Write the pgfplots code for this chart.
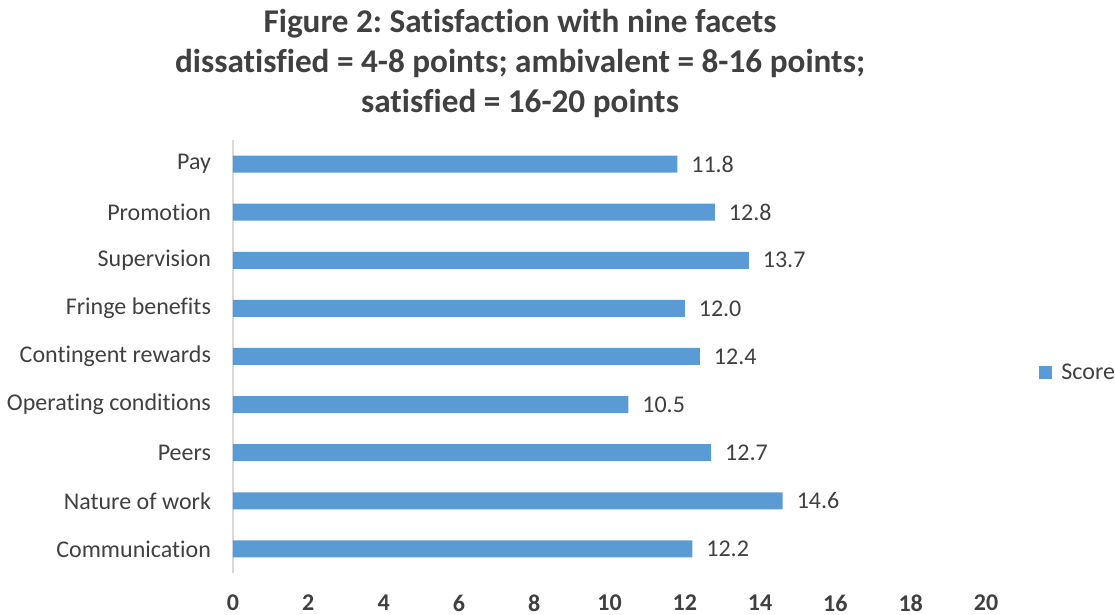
\documentclass[border=0pt]{standalone}
\usepackage{fontspec}
\setmainfont{Carlito}[Ligatures=NoCommon]
\usepackage{pgfplots}
\pgfplotsset{compat=1.18}
\frenchspacing
\definecolor{barblue}{HTML}{5B9BD5}
\definecolor{txt}{HTML}{404040}
\definecolor{axgray}{HTML}{D9D9D9}
\newcommand{\lbl}{\fontsize{12}{14.4}\selectfont}
\newcommand{\ttl}{\fontsize{16.6}{20}\selectfont\bfseries}
\begin{document}
\begin{tikzpicture}
\begin{axis}[
  scale only axis, width=376.5pt, height=216.5pt,
  xbar, bar width=8.5pt,
  xmin=0, xmax=20, ymin=-0.5, ymax=8.5,
  xtick={0,2,...,20},
  ytick={0,...,8},
  yticklabels={Communication, Nature of work, Peers, Operating conditions,
    Contingent rewards, Fringe benefits, Supervision, Promotion, Pay},
  axis lines*=left,
  axis line style={-},
  x axis line style={draw=none},
  y axis line style={draw=axgray, line width=0.75pt},
  major tick length=0pt,
  /pgf/number format/assume math mode=true,
  xticklabel style={font=\lbl\bfseries, text=txt, yshift=-7.3pt},
  yticklabel style={font=\lbl, text=txt, xshift=-7.5pt},
  nodes near coords={\pgfmathprintnumber[fixed,fixed zerofill,precision=1]{\pgfplotspointmeta}},
  every node near coord/.append style={anchor=west, xshift=3.5pt, font=\lbl, text=txt},
  legend style={draw=none, fill=none, at={(1,0.462)}, anchor=west, xshift=26.5pt,
    font=\lbl, text=txt, inner sep=0pt, nodes={inner xsep=4.5pt}},
  legend image code/.code={\fill[barblue] (0pt,-3.25pt) rectangle (6.5pt,3.25pt);},
]
\addplot[fill=barblue, draw=none] coordinates {
  (12.2,0) (14.6,1) (12.7,2) (10.5,3) (12.4,4)
  (12.0,5) (13.7,6) (12.8,7) (11.8,8)
};
\legend{Score}
\coordinate (o) at (rel axis cs:0,0);
\end{axis}
% title, one node per line, set on its baseline
\node[anchor=base, inner sep=0pt, font=\ttl, text=txt]
  at ([shift={(143.5pt,270pt)}]o) {Figure 2: Satisfaction with nine facets};
\node[anchor=base, inner sep=0pt, font=\ttl, text=txt]
  at ([shift={(143.5pt,250.2pt)}]o) {dissatisfied = 4-8 points; ambivalent = 8-16 points;};
\node[anchor=base, inner sep=0pt, font=\ttl, text=txt]
  at ([shift={(143.5pt,230.3pt)}]o) {satisfied = 16-20 points};
\pgfresetboundingbox
\path[use as bounding box] ([shift={(-116.5pt,-21pt)}]o) rectangle ([shift={(441pt,286.5pt)}]o);
\end{tikzpicture}
\end{document}
